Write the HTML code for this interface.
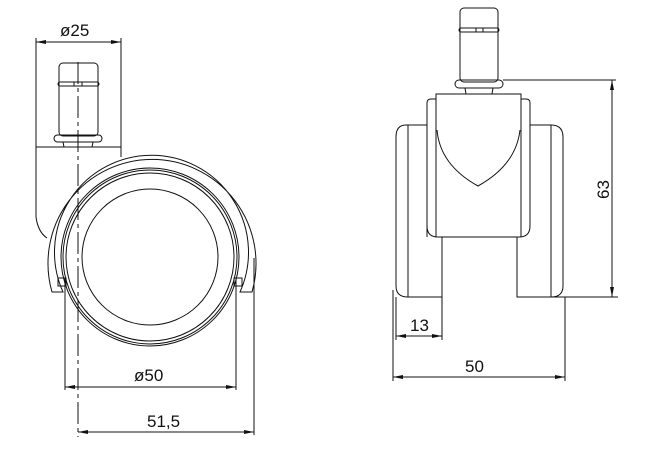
<!DOCTYPE html>
<html><head><meta charset="utf-8"><style>
html,body{margin:0;padding:0;background:#fff}
svg{display:block}
text{font-family:"Liberation Sans",sans-serif;font-size:17px;fill:#111;stroke:none}
</style></head><body>
<svg width="661" height="452" viewBox="0 0 661 452" xmlns="http://www.w3.org/2000/svg" fill="none" stroke="#111" stroke-width="1">
<defs>
<marker id="a" viewBox="0 0 10 4" refX="10" refY="2" markerWidth="10" markerHeight="4" orient="auto-start-reverse" markerUnits="userSpaceOnUse"><path d="M0,0 L10,2 L0,4z" fill="#111" stroke="none"/></marker>
</defs>
<!-- LEFT VIEW -->
<line x1="36" y1="38" x2="36" y2="217"/>
<line x1="121" y1="38" x2="121" y2="157"/>
<line x1="36" y1="42" x2="121" y2="42" marker-start="url(#a)" marker-end="url(#a)"/>
<text x="60" y="36">ø25</text>
<line x1="36" y1="147" x2="121" y2="147"/>
<path d="M36,217 Q38,232 47,238"/>
<!-- pin -->
<rect x="59" y="63" width="39" height="73" rx="4"/>
<rect x="58" y="82" width="41" height="4" rx="2"/>
<line x1="74" y1="82" x2="74" y2="86"/><line x1="82" y1="82" x2="82" y2="86"/>
<rect x="54" y="135" width="48" height="7" rx="3.5"/>
<path d="M63,142 L64,147 M93,142 L92,147"/>
<!-- wheel -->
<circle cx="150" cy="257" r="68"/>
<circle cx="150" cy="257" r="84"/>
<circle cx="150" cy="257" r="87"/>
<circle cx="150" cy="257" r="89"/>
<path d="M52,292 A104,104 0 1 1 252,292 L240,292 A97,97 0 1 0 63,292 Z"/>
<rect x="58" y="278" width="8" height="8"/>
<rect x="234" y="278" width="8" height="8"/>
<!-- dims -->
<line x1="78" y1="62" x2="78" y2="437" stroke-dasharray="22,4,4,4"/>
<line x1="65" y1="278" x2="65" y2="390"/>
<line x1="236" y1="278" x2="236" y2="390"/>
<line x1="65" y1="387" x2="236" y2="387" marker-start="url(#a)" marker-end="url(#a)"/>
<text x="134" y="381">ø50</text>
<line x1="254" y1="258" x2="254" y2="435"/>
<line x1="78" y1="432" x2="254" y2="432" marker-start="url(#a)" marker-end="url(#a)"/>
<text x="147" y="427">51,5</text>
<!-- RIGHT VIEW -->
<rect x="460" y="8" width="38" height="74" rx="4"/>
<rect x="459" y="28" width="40" height="4" rx="2"/>
<line x1="476" y1="28" x2="476" y2="32"/><line x1="483" y1="28" x2="483" y2="32"/>
<rect x="455" y="80" width="48" height="8" rx="4"/>
<path d="M465,88 L466,94 M493,88 L492,94"/>
<path d="M427,237 L427,103 Q427,99 431,99 L436,99 M521,99 L526,99 Q530,99 530,103 L530,226 Q530,237 519,237 L438,237 Q427,237 427,226"/>
<path d="M436,237 L436,94 L521,94 L521,237"/>
<path d="M437,130 Q440,165 478,186 Q516,165 520,130"/>
<path d="M427,125 L406,125 Q396,125 396,137 L396,286 Q396,297 408,297 L442,297 L442,237"/>
<line x1="408" y1="125" x2="408" y2="297"/>
<path d="M530,125 L551,125 Q563,125 563,137 L563,286 Q563,297 551,297 L517,297 L517,237"/>
<line x1="551" y1="125" x2="551" y2="297"/>
<line x1="503" y1="80" x2="616" y2="80"/>
<line x1="551" y1="297" x2="618" y2="297"/>
<line x1="612" y1="80" x2="612" y2="297" marker-start="url(#a)" marker-end="url(#a)"/>
<text transform="translate(609,199) rotate(-90)">63</text>
<line x1="396" y1="297" x2="396" y2="340"/>
<line x1="442" y1="297" x2="442" y2="340"/>
<line x1="396" y1="336" x2="442" y2="336" marker-start="url(#a)" marker-end="url(#a)"/>
<text x="410" y="331">13</text>
<line x1="393" y1="290" x2="393" y2="381"/>
<line x1="565" y1="297" x2="565" y2="381"/>
<line x1="393" y1="377" x2="565" y2="377" marker-start="url(#a)" marker-end="url(#a)"/>
<text x="465" y="372">50</text>
</svg>
</body></html>
